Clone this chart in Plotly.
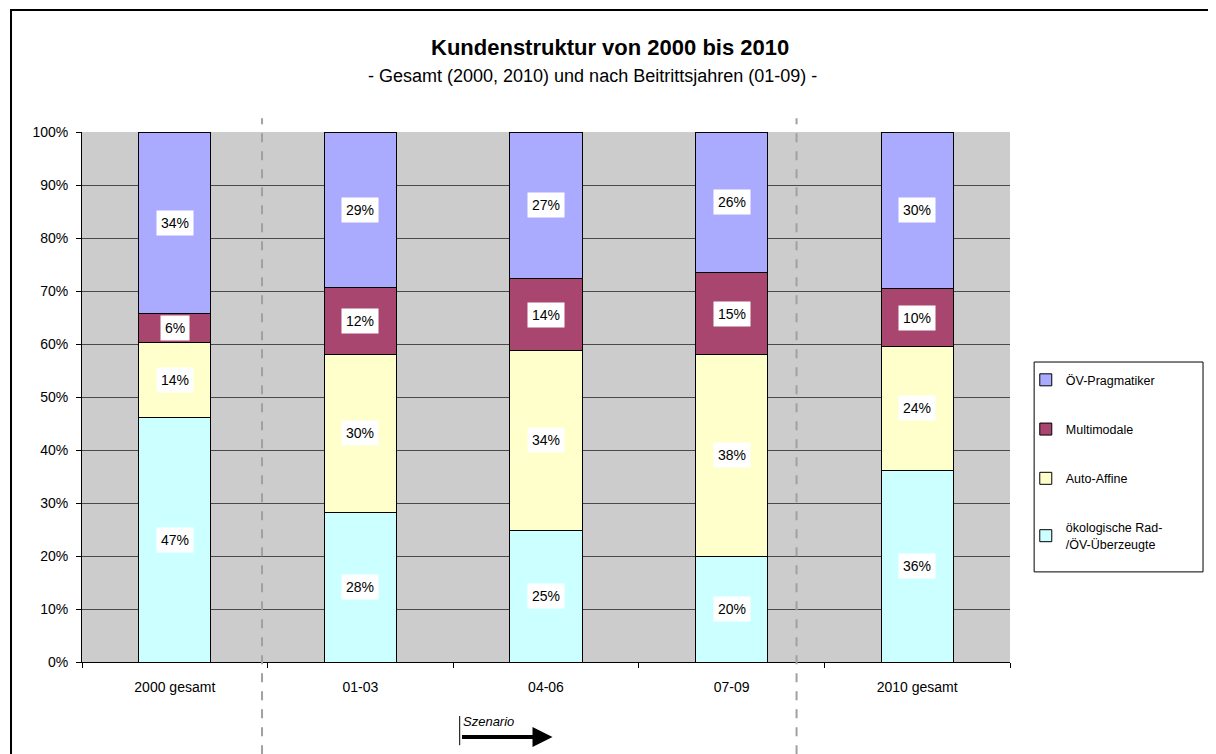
import plotly.graph_objects as go

categories = ["2000 gesamt", "01-03", "04-06", "07-09", "2010 gesamt"]

# bottom to top of each stacked bar (percent)
oekologische = [46.2, 28.3, 24.9, 20.0, 36.2]
auto_affine = [14.0, 29.8, 33.8, 38.1, 23.4]
multimodale = [5.5, 12.5, 13.6, 15.3, 10.8]
oev_pragmatiker = [34.3, 29.4, 27.7, 26.6, 29.6]

# printed labels as in the source chart
lbl_oeko = ["47%", "28%", "25%", "20%", "36%"]
lbl_auto = ["14%", "30%", "34%", "38%", "24%"]
lbl_multi = ["6%", "12%", "14%", "15%", "10%"]
lbl_prag = ["34%", "29%", "27%", "26%", "30%"]

series = [
    ("ökologische Rad-<br>/ÖV-Überzeugte", oekologische, lbl_oeko, "#CCFFFF"),
    ("Auto-Affine", auto_affine, lbl_auto, "#FFFFCC"),
    ("Multimodale", multimodale, lbl_multi, "#A8466F"),
    ("ÖV-Pragmatiker", oev_pragmatiker, lbl_prag, "#AAAAFF"),
]

FONT = "Liberation Sans, Arial, sans-serif"

fig = go.Figure()
annotations = []
base = [0.0] * len(categories)
for i, (name, vals, labels, color) in enumerate(series):
    fig.add_trace(go.Bar(
        x=categories, y=vals, name=name,
        marker=dict(color=color, line=dict(color="black", width=1)),
        width=0.39, legendgroup=str(i), legendrank=10 - i,
    ))
    for cat, b, v, t in zip(categories, base, vals, labels):
        annotations.append(dict(
            x=cat, y=b + v / 2, xref="x", yref="y", text=t, showarrow=False,
            bgcolor="white", font=dict(family=FONT, size=14, color="black"),
            borderpad=4,
        ))
    base = [b + v for b, v in zip(base, vals)]

# titles
annotations.append(dict(x=0.569, y=1.16, xref="paper", yref="paper", yanchor="middle",
                        text="<b>Kundenstruktur von 2000 bis 2010</b>", showarrow=False,
                        font=dict(family=FONT, size=22, color="black")))
annotations.append(dict(x=0.55, y=1.106, xref="paper", yref="paper", yanchor="middle",
                        text="- Gesamt (2000, 2010) und nach Beitrittsjahren (01-09) -",
                        showarrow=False, font=dict(family=FONT, size=18, color="black")))
# Szenario arrow
annotations.append(dict(x=0.408, y=-0.113, xref="paper", yref="paper", yanchor="middle",
                        text="<i>Szenario</i>", showarrow=False, xanchor="left",
                        font=dict(family=FONT, size=13, color="black")))
annotations.append(dict(x=0.507, y=-0.1415, xref="paper", yref="paper", ax=-92, ay=0,
                        text="", showarrow=True, arrowhead=2, arrowsize=1, arrowwidth=4,
                        arrowcolor="black"))

shapes = [
    # outer frame
    dict(type="rect", xref="paper", yref="paper", x0=-0.0765, y0=-0.25, x1=1.25, y1=1.2302,
         line=dict(color="black", width=2), layer="above"),
    # legend frame
    dict(type="rect", xref="paper", yref="paper", x0=1.026, y0=0.170, x1=1.208, y1=0.566,
         line=dict(color="black", width=1), fillcolor="white", layer="below"),
    # dashed separators
    dict(type="line", xref="x", yref="paper", x0=0.47, x1=0.47, y0=-0.174, y1=1.026,
         line=dict(color="#A0A0A0", width=2, dash="dash"), layer="above"),
    dict(type="line", xref="x", yref="paper", x0=3.35, x1=3.35, y0=-0.174, y1=1.026,
         line=dict(color="#A0A0A0", width=2, dash="dash"), layer="above"),
    # arrow shaft (double line) and start tick
    dict(type="line", xref="paper", yref="paper", x0=0.407, x1=0.493, y0=-0.1415, y1=-0.1415,
         line=dict(color="white", width=1.5), layer="above"),
    dict(type="line", xref="paper", yref="paper", x0=0.407, x1=0.407, y0=-0.102, y1=-0.157,
         line=dict(color="black", width=1)),
]

fig.update_layout(
    barmode="stack",
    width=1216, height=754,
    margin=dict(l=74, r=214, t=124, b=100),
    paper_bgcolor="white",
    plot_bgcolor="#CCCCCC",
    font=dict(family=FONT, size=12, color="black"),
    showlegend=True,
    legend=dict(x=1.017, y=0.56, xanchor="left", yanchor="top",
                traceorder="grouped", tracegroupgap=30, itemwidth=30,
                borderwidth=0, bgcolor="rgba(0,0,0,0)",
                font=dict(family=FONT, size=12.5, color="black")),
    annotations=annotations,
    shapes=shapes,
)
fig.update_xaxes(type="category", showline=True, linecolor="black", linewidth=1,
                 ticks="outside", tickson="boundaries", ticklen=5, tickcolor="black",
                 tickfont=dict(size=14), showgrid=False, ticklabelstandoff=12)
fig.update_yaxes(range=[0, 100], dtick=10, ticksuffix="%", showline=True,
                 linecolor="black", linewidth=1, ticks="outside", ticklen=5,
                 tickcolor="black", showgrid=True, gridcolor="#4A4A4A", gridwidth=1,
                 zeroline=False, tickfont=dict(size=14), ticklabelstandoff=5)

fig.write_html("out.html")
